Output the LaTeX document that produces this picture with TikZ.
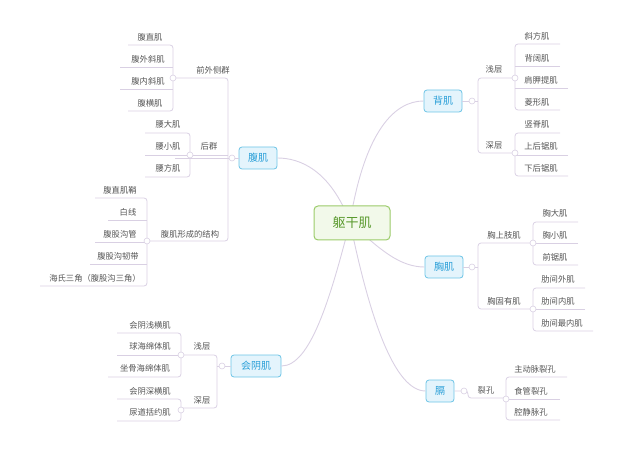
\documentclass[tikz,border=0pt]{standalone}
\usepackage{fontspec}
\setmainfont{Noto Sans CJK SC}
\begin{document}
\begin{tikzpicture}[x=1pt,y=-1pt,
  ln/.style={draw=lc,line width=0.8pt,rounded corners=3pt},
  leaf/.style={text=tc,font=\fontsize{8.3}{9}\selectfont,inner sep=0pt},
  mainbox/.style={draw=bb,fill=bf,text=bt,rounded corners=3pt,line width=0.8pt,font=\fontsize{10}{11}\selectfont,minimum height=22pt},
  knob/.style={circle,draw=lc,fill=white,minimum size=6pt,inner sep=0pt,line width=0.6pt}]
\definecolor{lc}{HTML}{D9D0E3}
\definecolor{tc}{HTML}{555555}
\definecolor{bb}{HTML}{6CC4E6}
\definecolor{bf}{HTML}{E4F4FC}
\definecolor{bt}{HTML}{2A9FD8}
\definecolor{gb}{HTML}{9BCB6A}
\definecolor{gf}{HTML}{F2F9EA}
\definecolor{gt}{HTML}{5A9A2E}
\useasboundingbox (0,0) rectangle (640,449);
% main curves
\coordinate (rc) at (350,222);
\node[mainbox,minimum width=38pt] (fu) at (258,158) {腹肌};
\node[mainbox,minimum width=38pt] (bei) at (443,101) {背肌};
\node[mainbox,minimum width=38pt] (xiong) at (444,267) {胸肌};
\node[mainbox,minimum width=50pt] (hy) at (256,366) {会阴肌};
\node[mainbox,minimum width=28pt] (ge) at (440,391) {膈};
\draw[lc,line width=0.9pt] (rc) .. controls (330,170) and (300,158) .. (fu.east);
\draw[lc,line width=0.9pt] (rc) .. controls (365,130) and (395,101) .. (bei.west);
\draw[lc,line width=0.9pt] (rc) .. controls (380,250) and (400,267) .. (xiong.west);
\draw[lc,line width=0.9pt] (rc) .. controls (330,300) and (310,366) .. (hy.east);
\draw[lc,line width=0.9pt] (rc) .. controls (370,320) and (395,391) .. (ge.west);
\node[draw=gb,fill=gf,text=gt,rounded corners=4pt,line width=1pt,minimum width=76pt,minimum height=34pt,font=\fontsize{13}{14}\selectfont] (root) at (352,223) {躯干肌};

% ---------- 腹肌
\draw[ln] (fu.west) -- (175,158);
\draw[ln] (175,78) -- (228,78) -- (228,241) -- (148,241);
\draw[ln] (190,155) -- (228,155);
\node[knob] (k1) at (232,158) {};
\node[leaf] (qw) at (213,70) {前外侧群};
\node[leaf] (hq) at (209,146) {后群};
\node[leaf] (jg) at (190,234) {腹肌形成的结构};
% 前外侧群
\draw[ln] (128,45) -- (173,45) -- (173,111) -- (128,111);
\draw[ln] (120,67) -- (173,67); \draw[ln] (120,89) -- (173,89);
\node[knob] (k2) at (173,78) {};
\node[leaf] (a1) at (150,37) {腹直肌};
\node[leaf] (a2) at (148,59) {腹外斜肌};
\node[leaf] (a3) at (148,81) {腹内斜肌};
\node[leaf] (a4) at (150,103) {腹横肌};
% 后群
\draw[ln] (145,133) -- (190,133) -- (190,177) -- (145,177);
\draw[ln] (145,155) -- (190,155);
\node[knob] (k3) at (190,155) {};
\node[leaf] (b1) at (168,124) {腰大肌};
\node[leaf] (b2) at (168,146) {腰小肌};
\node[leaf] (b3) at (168,168) {腰方肌};
% 结构
\draw[ln] (95,198) -- (147,198) -- (147,286) -- (40,286);
\draw[ln] (108,220) -- (147,220); \draw[ln] (95,242) -- (147,242); \draw[ln] (90,264) -- (147,264);
\node[knob] (k4) at (147,241) {};
\node[leaf] (c1) at (120,190) {腹直肌鞘};
\node[leaf] (c2) at (128,212) {白线};
\node[leaf] (c3) at (120,234) {腹股沟管};
\node[leaf] (c4) at (118,256) {腹股沟韧带};
\node[leaf] (c5) at (95,278) {海氏三角（腹股沟三角）};

% ---------- 背肌
\draw[ln] (bei.east) -- (478,101);
\draw[ln] (513,78) -- (478,78) -- (478,153) -- (513,153);
\node[knob] (k5) at (472,101) {};
\node[leaf] (d1) at (494,69) {浅层};
\node[leaf] (d2) at (494,145) {深层};
\draw[ln] (560,44) -- (515,44) -- (515,110) -- (560,110);
\draw[ln] (560,66) -- (515,66); \draw[ln] (568,88) -- (515,88);
\node[knob] (k6) at (515,78) {};
\node[leaf] (e1) at (537,36) {斜方肌};
\node[leaf] (e2) at (537,58) {背阔肌};
\node[leaf] (e3) at (541,80) {肩胛提肌};
\node[leaf] (e4) at (537,102) {菱形肌};
\draw[ln] (560,133) -- (515,133) -- (515,176) -- (568,176);
\draw[ln] (568,155) -- (515,155);
\node[knob] (k7) at (515,153) {};
\node[leaf] (f1) at (537,124) {竖脊肌};
\node[leaf] (f2) at (541,146) {上后锯肌};
\node[leaf] (f3) at (541,168) {下后锯肌};

% ---------- 胸肌
\draw[ln] (xiong.east) -- (478,267);
\draw[ln] (530,243) -- (478,243) -- (478,309) -- (530,309);
\node[knob] (k8) at (472,267) {};
\node[leaf] (g1) at (504,235) {胸上肢肌};
\node[leaf] (g2) at (504,301) {胸固有肌};
\draw[ln] (578,222) -- (533,222) -- (533,265) -- (578,265);
\draw[ln] (578,243) -- (533,243);
\node[knob] (k9) at (533,243) {};
\node[leaf] (h1) at (555,213) {胸大肌};
\node[leaf] (h2) at (555,235) {胸小肌};
\node[leaf] (h3) at (555,257) {前锯肌};
\draw[ln] (585,288) -- (533,288) -- (533,331) -- (593,331);
\draw[ln] (585,309) -- (533,309);
\node[knob] (k10) at (533,309) {};
\node[leaf] (i1) at (558,279) {肋间外肌};
\node[leaf] (i2) at (558,301) {肋间内肌};
\node[leaf] (i3) at (562,323) {肋间最内肌};

% ---------- 会阴肌
\draw[ln] (hy.west) -- (217,366);
\draw[ln] (183,355) -- (217,355) -- (217,408) -- (183,408);
\node[knob] (k11) at (222,366) {};
\node[leaf] (j1) at (202,346) {浅层};
\node[leaf] (j2) at (202,400) {深层};
\draw[ln] (117,333) -- (181,333) -- (181,377) -- (108,377);
\draw[ln] (117,355) -- (181,355);
\node[knob] (k12) at (181,355) {};
\node[leaf] (l1) at (150,325) {会阴浅横肌};
\node[leaf] (l2) at (150,346) {球海绵体肌};
\node[leaf] (l3) at (145,368) {坐骨海绵体肌};
\draw[ln] (117,399) -- (181,399) -- (181,421) -- (117,421);
\node[knob] (k13) at (181,410) {};
\node[leaf] (m1) at (150,391) {会阴深横肌};
\node[leaf] (m2) at (150,412) {尿道括约肌};

% ---------- 膈
\draw[ln] (ge.east) -- (464,391) -- (468,391) -- (468,398) -- (506,398);
\node[knob] (k14) at (464,391) {};
\node[leaf] (n0) at (486,390) {裂孔};
\draw[ln] (567,377) -- (506,377) -- (506,420) -- (560,420);
\draw[ln] (560,399) -- (506,399);
\node[knob] (k15) at (506,399) {};
\node[leaf] (o1) at (535,369) {主动脉裂孔};
\node[leaf] (o2) at (531,391) {食管裂孔};
\node[leaf] (o3) at (531,412) {腔静脉孔};
\end{tikzpicture}
\end{document}
